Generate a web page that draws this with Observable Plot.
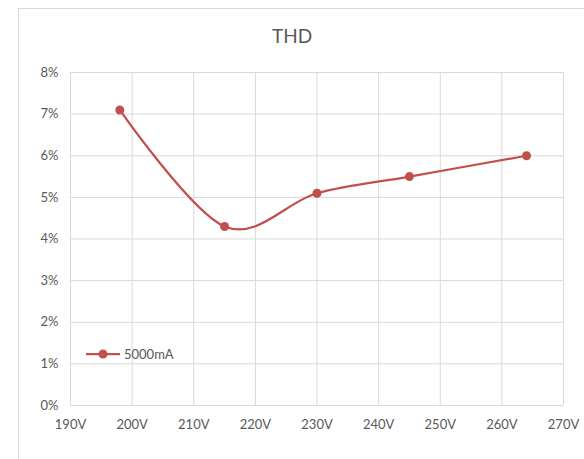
<!DOCTYPE html>
<html>
<head>
<meta charset="utf-8">
<script src="https://cdn.jsdelivr.net/npm/d3@7"></script>
<script src="https://cdn.jsdelivr.net/npm/@observablehq/plot@0.6"></script>
<style>
  html, body { margin: 0; padding: 0; background: #fff; }
  #wrap { position: relative; width: 584px; height: 459px; overflow: hidden; font-family: Lato, "Open Sans", sans-serif; color: #595959; }
  #frame { position: absolute; left: 18px; top: 8px; width: 700px; height: 600px; border: 1px solid #d9d9d9; box-sizing: border-box; }
  #title { position: absolute; left: 0; width: 584px; top: 24px; text-align: center; font-size: 19px; color: #595959; }
  #chart { position: absolute; left: 0; top: 0; }
  #legend { position: absolute; left: 86px; top: 346px; display: flex; align-items: center; font-size: 13px; color: #595959; }
</style>
</head>
<body>
<div id="wrap">
  <div id="frame"></div>
  <div id="chart"></div>
  <div id="title">THD</div>
  <div id="legend"></div>
</div>
<script>
const voltages = [198, 215, 230, 245, 264];
const thd = [0.071, 0.043, 0.051, 0.055, 0.060];
const seriesName = "5000mA";
const xTicks = [190, 200, 210, 220, 230, 240, 250, 260, 270];
const yTicks = [0, 0.01, 0.02, 0.03, 0.04, 0.05, 0.06, 0.07, 0.08];
const lineColor = "#c0504d";

const data = voltages.map((v, i) => ({v, t: thd[i]}));

const plot = Plot.plot({
  width: 584,
  height: 459,
  marginLeft: 70,
  marginRight: 21,
  marginTop: 72,
  marginBottom: 54,
  style: {fontFamily: "Lato, 'Open Sans', sans-serif", fontSize: "13px", color: "#595959", background: "transparent"},
  x: {domain: [190, 270], ticks: xTicks, tickFormat: d => d + "V", tickSize: 0, tickPadding: 14, label: null},
  y: {domain: [0, 0.08], ticks: yTicks, tickFormat: d => Math.round(d * 100) + "%", tickSize: 0, tickPadding: 12, label: null},
  marks: [
    Plot.gridX(xTicks, {stroke: "#d9d9d9", strokeOpacity: 1, strokeWidth: 1}),
    Plot.gridY(yTicks, {stroke: "#d9d9d9", strokeOpacity: 1, strokeWidth: 1}),
    Plot.axisX(xTicks, {tickSize: 0, tickPadding: 14, tickFormat: d => d + "V", fill: "#595959", label: null}),
    Plot.axisY(yTicks, {tickSize: 0, tickPadding: 12, tickFormat: d => Math.round(d * 100) + "%", fill: "#595959", label: null}),
    Plot.line(data, {x: "v", y: "t", curve: "cardinal", stroke: lineColor, strokeWidth: 2.25}),
    Plot.dot(data, {x: "v", y: "t", r: 4.5, fill: lineColor, stroke: "none"})
  ]
});
document.getElementById("chart").appendChild(plot);

const legend = document.getElementById("legend");
legend.innerHTML = `<svg width="34" height="16" style="margin-right:4px"><line x1="0" y1="8" x2="34" y2="8" stroke="${lineColor}" stroke-width="2.25"/><circle cx="17" cy="8" r="4.5" fill="${lineColor}"/></svg><span>${seriesName}</span>`;
</script>
</body>
</html>
